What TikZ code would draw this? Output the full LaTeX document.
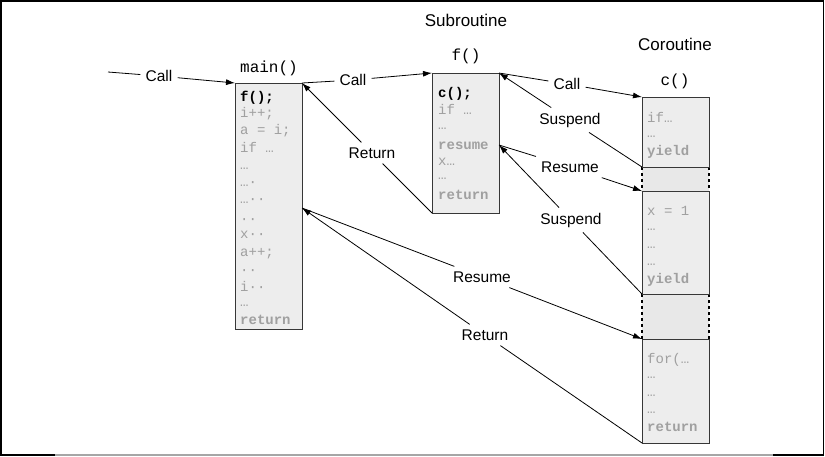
\documentclass[tikz,border=0pt]{standalone}
\usepackage{fontspec}
\setmainfont{Liberation Sans}
\newfontfamily\codefont{Liberation Mono}
\usetikzlibrary{arrows.meta}
\definecolor{codegray}{RGB}{160,160,160}
\definecolor{boxfill}{RGB}{237,237,237}
\definecolor{gapfill}{RGB}{232,232,232}
\definecolor{boxline}{RGB}{55,55,55}
\begin{document}
\begin{tikzpicture}[x=1pt,y=-1pt,
  lbl/.style={font=\fontsize{15.5}{18}\selectfont, inner sep=5pt},
  ttl/.style={font=\fontsize{17}{20}\selectfont, inner sep=0pt},
  fname/.style={font={\codefont\fontsize{16}{18}\selectfont}, anchor=base, inner sep=0pt},
  code/.style={font={\codefont\fontsize{14}{16}\selectfont}, text=codegray, anchor=base west, inner sep=0pt},
  codeb/.style={code, font={\codefont\bfseries\fontsize{14}{16}\selectfont}},
  codek/.style={codeb, text=black},
  blk/.style={draw=boxline, fill=boxfill, line width=1pt, minimum width=67pt, inner sep=0pt, outer sep=0pt},
  gapf/.style={fill=gapfill, draw=none, minimum width=67pt, inner sep=0pt, outer sep=0pt},
  dotside/.style={line width=2pt, dash pattern=on 3pt off 3pt, black},
  conn/.style={line width=0.8pt, black},
  arr/.style={conn, -{Latex[length=9pt,width=6pt]}},
]
\useasboundingbox (0,0) rectangle (825,456);
% frame
\draw[line width=1.5pt] (55,455) -- (0.75,455) -- (0.75,0.75) -- (823.5,0.75) -- (823.5,455) -- (773,455);
\draw[line width=1.5pt, gray!70] (55,455) -- (773,455);

% titles
\node[ttl] (tsub) at (466,20) {Subroutine};
\node[ttl] (tco) at (675,44) {Coroutine};
\node[fname] (nmain) at (269,72) {main()};
\node[fname] (nf) at (466,60) {f()};
\node[fname] (nc) at (675,85) {c()};

% boxes
\node[blk, minimum height=246pt] (mainbox) at (268.5,206) {};
\node[blk, minimum height=140pt] (fbox) at (465.5,143) {};
\node[gapf, minimum height=24pt] (gap1) at (675.5,179) {};
\node[gapf, minimum height=45pt] (gap2) at (675.5,316.5) {};
\draw[dotside] (gap1.north west) -- (gap1.south west);
\draw[dotside] (gap1.north east) -- (gap1.south east);
\draw[dotside] (gap2.north west) -- (gap2.south west);
\draw[dotside] (gap2.north east) -- (gap2.south east);
\node[blk, minimum height=70pt] (cb1) at (675.5,132) {};
\node[blk, minimum height=103pt] (cb2) at (675.5,242.5) {};
\node[blk, minimum height=104pt] (cb3) at (675.5,391) {};

% main code
\node[codek] (m0) at (240,101) {f();};
\foreach \t/\yy [count=\i] in {{i++;}/117, {a = i;}/134, {if …}/152, {…}/169, {…·}/186, {…··}/203, {··}/223, {x··}/238, {a++;}/256, {··}/274, {i··}/291, {…}/306}
  \node[code] (m\i) at (240,\yy) {\t};
\node[codeb] (mret) at (240,324) {return};

% f code
\node[codek] (f0) at (438,97) {c();};
\node[code] (f1) at (438,114) {if …};
\node[code] (f2) at (438,129) {…};
\node[codeb] (f3) at (438,149) {resume};
\node[code] (f4) at (438,165) {x…};
\node[code] (f5) at (438,179) {…};
\node[codeb] (f6) at (438,199) {return};

% c code
\node[code] (c1) at (647,122) {if…};
\node[code] (c2) at (647,137) {…};
\node[codeb] (c3) at (647,155) {yield};
\node[code] (c4) at (647,215) {x = 1};
\node[code] (c5) at (647,230) {…};
\node[code] (c6) at (647,248) {…};
\node[code] (c7) at (647,265) {…};
\node[codeb] (c8) at (647,283) {yield};
\node[code] (c9) at (647,363) {for(…};
\node[code] (c10) at (647,378) {…};
\node[code] (c11) at (647,396) {…};
\node[code] (c12) at (647,413) {…};
\node[codeb] (c13) at (647,431) {return};

% connection points
\coordinate (c1s) at (108,72);
\coordinate (mainR) at (302,208);
\coordinate (fR) at (499,145);

% labels
\node[lbl] (lcall1) at (159,76) {Call};
\node[lbl] (lcall2) at (353,80) {Call};
\node[lbl] (lret1) at (372,153) {Return};
\node[lbl] (lcall3) at (567,84) {Call};
\node[lbl] (lsus1) at (570,120) {Suspend};
\node[lbl] (lres1) at (570,167) {Resume};
\node[lbl] (lsus2) at (571,220) {Suspend};
\node[lbl] (lres2) at (482,277) {Resume};
\node[lbl] (lret2) at (485,335) {Return};

% connectors
\draw[conn] (c1s) -- (lcall1);
\draw[arr] (lcall1) -- (mainbox.north west);
\draw[conn] (mainbox.north east) -- (lcall2);
\draw[arr] (lcall2) -- (fbox.north west);
\draw[conn] (fbox.south west) -- (lret1);
\draw[arr] (lret1) -- (mainbox.north east);
\draw[conn] (fbox.north east) -- (lcall3);
\draw[arr] (lcall3) -- (cb1.north west);
\draw[conn] (cb1.south west) -- (lsus1);
\draw[arr] (lsus1) -- (fbox.north east);
\draw[conn] (fR) -- (lres1);
\draw[arr] (lres1) -- (cb2.north west);
\draw[conn] (cb2.south west) -- (lsus2);
\draw[arr] (lsus2) -- (fR);
\draw[conn] (mainR) -- (lres2);
\draw[arr] (lres2) -- (cb3.north west);
\draw[conn] (cb3.south west) -- (lret2);
\draw[arr] (lret2) -- (mainR);
\end{tikzpicture}
\end{document}
